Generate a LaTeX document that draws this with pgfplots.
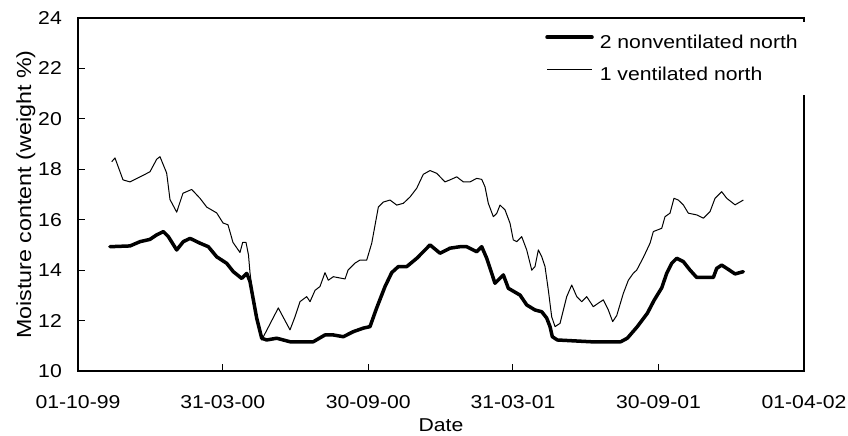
\documentclass[border=0pt]{standalone}
\usepackage{fontspec}
\setmainfont{Liberation Sans}[FakeStretch=1.14]
\usepackage{pgfplots}
\pgfplotsset{compat=1.18}
\begin{document}
\begin{tikzpicture}[font=\fontsize{18.6}{22}\selectfont]
\path[use as bounding box] (-78pt,-65pt) rectangle (770pt,371pt);
\begin{axis}[
 scale only axis, width=726pt, height=353pt,
 at={(0pt,0pt)}, anchor=south west,
 xmin=0, xmax=913, ymin=10, ymax=24,
 xtick={0,182,365,547,730,913},
 xticklabels={01-10-99,31-03-00,30-09-00,31-03-01,30-09-01,01-04-02},
 ytick={10,12,...,24},
 tick align=inside, major tick length=7pt,
 xtick pos=bottom, ytick pos=left,
 axis line style={line width=1.5pt},
 tick style={line width=1pt, black},
 /pgf/number format/assume math mode=true,
 yticklabel style={inner sep=0pt, anchor=east, xshift=-16pt},
 xticklabel style={inner sep=0pt, anchor=north, yshift=-24pt},
 xlabel={Date}, ylabel={Moisture content (weight \%)},
 xlabel style={at={(axis description cs:0.5,0)}, anchor=center, inner sep=0pt, yshift=-54pt},
 ylabel style={at={(axis description cs:-0.0647,0.5)}, anchor=base, inner sep=0pt, font=\fontsize{20.4}{24}\selectfont},
 legend style={at={(axis description cs:1.0083,0.9887)}, anchor=north east, fill=white, draw=none, inner xsep=12pt, inner ysep=13pt, nodes={inner sep=0pt}, row sep=17pt},
 legend cell align=left,
 legend image code/.code={\draw[#1] (0pt,5.5pt) -- (45pt,5.5pt); \path (51pt,0pt);},
]
\addplot[black, line width=3.5pt, line join=round, line cap=round] coordinates {
(40.2,14.93)(65.4,14.96)(78.0,15.13)(90.5,15.22)(99.0,15.4)(107.3,15.53)(113.6,15.33)
(124.1,14.8)(132.4,15.13)(140.9,15.26)(153.4,15.07)(163.9,14.93)(174.4,14.53)(187.0,14.27)
(195.3,13.94)(205.9,13.67)(212.2,13.87)(216.3,13.55)(224.7,12.1)(231.0,11.3)(237.3,11.23)
(249.9,11.3)(266.6,11.16)(295.9,11.16)(310.6,11.43)(321.1,11.43)(333.6,11.36)(346.2,11.56)
(358.8,11.7)(367.2,11.76)(375.6,12.5)(386.1,13.35)(394.5,13.9)(402.8,14.14)(413.4,14.14)
(426.0,14.47)(442.7,15.0)(455.3,14.67)(467.8,14.87)(480.4,14.93)(488.8,14.93)(501.4,14.73)
(507.7,14.93)(514.0,14.47)(524.4,13.48)(534.9,13.81)(541.2,13.28)(555.9,13.01)(564.3,12.62)
(574.7,12.42)(583.2,12.35)(589.4,12.1)(593.6,11.76)(596.5,11.36)(602.8,11.23)(644.8,11.16)
(682.5,11.16)(690.8,11.3)(703.4,11.76)(716.0,12.29)(724.4,12.8)(734.1,13.3)(740.4,13.88)
(746.6,14.27)(752.9,14.47)(761.2,14.34)(769.7,14.0)(778.1,13.71)(799.0,13.71)(803.2,14.07)
(809.5,14.2)(817.8,14.03)(826.3,13.85)(836.7,13.94)
};
\addlegendentry{2 nonventilated north}
\addplot[black, line width=1pt, line join=round] coordinates {
(42.4,18.3)(46.5,18.45)(56.6,17.58)(65.4,17.5)(78.0,17.7)(90.5,17.9)(99.0,18.4)(103.1,18.5)
(111.5,17.85)(115.7,16.8)(124.1,16.3)(128.3,16.7)(132.0,17.05)(143.0,17.2)(153.4,16.85)
(161.9,16.5)(174.4,16.27)(182.4,15.87)(188.6,15.8)(194.9,15.1)(203.7,14.7)(207.1,15.1)
(211.3,15.1)(214.4,14.6)(216.3,13.9)(222.6,12.3)(231.0,11.23)(251.9,12.5)(266.6,11.63)
(272.9,12.15)(279.2,12.75)(287.6,12.95)(291.8,12.75)(298.1,13.2)(304.3,13.35)(310.6,13.9)
(314.8,13.6)(321.1,13.74)(335.8,13.65)(339.6,14.0)(348.4,14.28)(354.6,14.4)(363.1,14.4)
(369.4,15.07)(377.7,16.5)(384.0,16.7)(392.4,16.78)(400.8,16.58)(409.1,16.65)(417.5,16.9)
(426.0,17.25)(434.2,17.8)(442.7,17.95)(451.1,17.84)(461.5,17.5)(467.8,17.58)(476.3,17.7)
(484.6,17.5)(493.0,17.5)(501.4,17.64)(507.7,17.6)(511.8,17.31)(516.0,16.65)(522.3,16.12)
(526.6,16.25)(530.7,16.58)(537.0,16.39)(543.3,15.86)(547.4,15.2)(551.7,15.13)(558.0,15.33)
(564.3,14.8)(570.6,14.0)(574.7,14.14)(578.9,14.8)(583.2,14.53)(587.3,14.14)(591.5,13.2)
(595.7,12.15)(599.9,11.76)(606.2,11.89)(614.6,12.95)(620.9,13.41)(627.2,12.95)(633.4,12.75)
(639.7,12.95)(648.0,12.55)(654.3,12.69)(660.6,12.82)(666.9,12.42)(672.4,11.96)(677.5,12.2)
(685.8,13.08)(692.1,13.6)(698.4,13.88)(702.6,14.0)(710.9,14.5)(719.4,15.07)(723.5,15.53)
(734.1,15.66)(738.2,16.12)(744.5,16.26)(749.5,16.85)(754.9,16.78)(761.2,16.59)(767.5,16.26)
(778.1,16.19)(786.4,16.06)(794.8,16.32)(801.1,16.85)(809.5,17.11)(815.8,16.85)(826.3,16.59)
(836.7,16.78)
};
\addlegendentry{1 ventilated north}
\end{axis}
\end{tikzpicture}
\end{document}
